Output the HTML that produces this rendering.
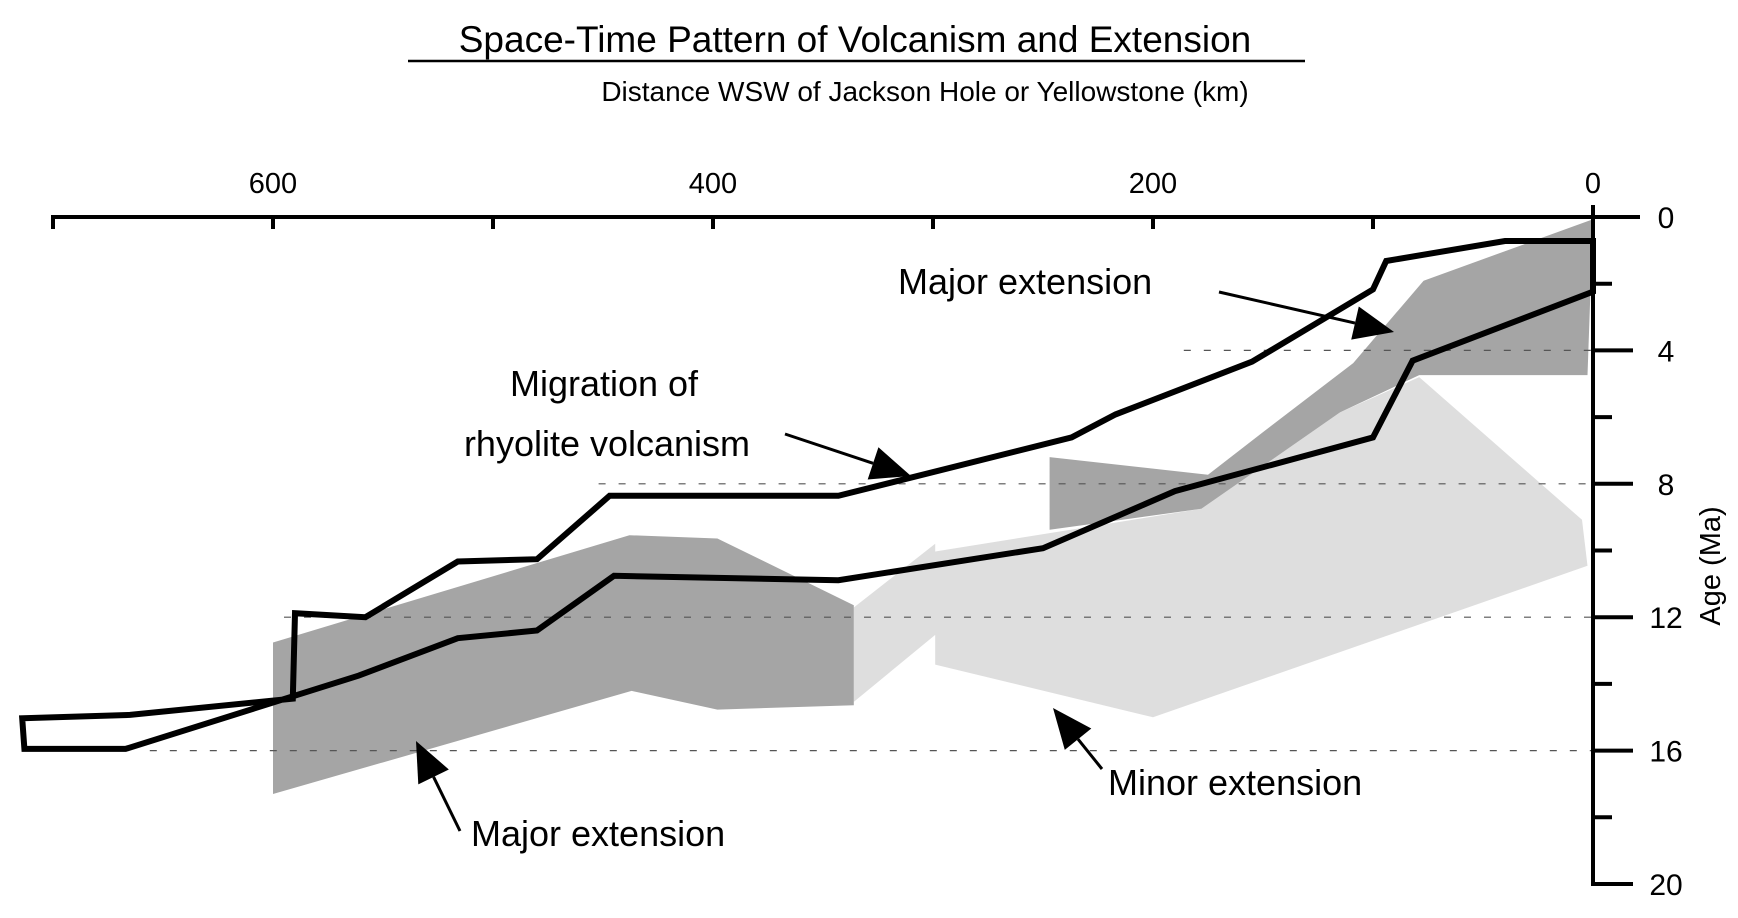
<!DOCTYPE html>
<html><head><meta charset="utf-8"><style>
html,body{margin:0;padding:0;background:#fff}
svg{display:block;font-family:"Liberation Sans",sans-serif}
</style></head><body>
<svg id="chart" width="1738" height="918" viewBox="0 0 1738 918" xmlns="http://www.w3.org/2000/svg">
<text x="855" y="52" font-size="37" text-anchor="middle">Space-Time Pattern of Volcanism and Extension</text>
<line x1="408" y1="61" x2="1305" y2="61" stroke="#000" stroke-width="2.5"/>
<text x="925" y="101" font-size="28" text-anchor="middle">Distance WSW of Jackson Hole or Yellowstone (km)</text>
<g id="shapes"></g>
<g id="grid"></g>
<g id="lines"></g>
<g id="axes"></g>
<g id="annot">
<text x="898" y="294" font-size="36">Major extension</text>
<text x="604" y="396" font-size="36" text-anchor="middle">Migration of</text>
<text x="607" y="456" font-size="36" text-anchor="middle">rhyolite volcanism</text>
<text x="471" y="846" font-size="36">Major extension</text>
<text x="1108" y="795" font-size="36">Minor extension</text>
<text transform="translate(1720,566) rotate(-90)" font-size="29" text-anchor="middle">Age (Ma)</text>
</g>
</svg>
<script>
// data (km WSW, age Ma)
const xTicks = [0,100,200,300,400,500,600,700];
const xTickLabels = ["0","200","400","600"];
const xTickLabelValues = [0,200,400,600];
const yTicks = [0,2,4,6,8,10,12,14,16,18,20];
const yTickLabels = ["0","4","8","12","16","20"];
const yTickLabelValues = [0,4,8,12,16,20];
const gridAges = [4,8,12,16];
const gridStartKm = [186,452,595,656];
const volcKm = [0,40,94,100,155,217,237,343,447,480,516,558,590,591,665,714,713,667,561,516,480,445,343,250,190,100,82,0];
const volcAge = [0.72,0.72,1.32,2.17,4.34,5.92,6.61,8.36,8.36,10.26,10.33,12.0,11.88,14.44,14.93,15.03,15.95,15.95,13.75,12.63,12.4,10.76,10.89,9.93,8.22,6.61,4.31,2.24];
const majorRightKm = [0,77,109,150,175,247,247,178,115,79,2.5];
const majorRightAge = [0.07,1.91,4.38,6.45,7.73,7.2,9.38,8.75,5.86,4.74,4.74];
const majorLeftKm = [600,438,398,336,336,398,437,600];
const majorLeftAge = [12.76,9.54,9.64,11.64,14.64,14.77,14.21,17.3];
const minorKm = [336,299,299,178,115,79,5,2.5,200,299,299,336];
const minorAge = [11.71,9.8,10.03,8.75,5.86,4.8,9.08,10.46,15.0,13.42,12.53,14.54];

const X = km => 1593 - km*2.2;
const Y = a => 217 + a*33.35;
const NS = "http://www.w3.org/2000/svg";
function mk(tag, parent){const e=document.createElementNS(NS,tag);document.getElementById(parent).appendChild(e);return e;}
function pts(k,a){return k.map((v,i)=>X(v).toFixed(1)+","+Y(a[i]).toFixed(1)).join(" ");}

let p = mk("polygon","shapes");


p.setAttribute("points", pts(minorKm,minorAge)); p.setAttribute("fill","#dedede");
p = mk("polygon","shapes");


p.setAttribute("points", pts(majorLeftKm,majorLeftAge)); p.setAttribute("fill","#a5a5a5");
p = mk("polygon","shapes");


p.setAttribute("points", pts(majorRightKm,majorRightAge)); p.setAttribute("fill","#a5a5a5");

gridAges.forEach((a,i)=>{
  const l = mk("line","grid");
  
  
  l.setAttribute("x1",X(gridStartKm[i])); l.setAttribute("x2",X(0)); l.setAttribute("y1",Y(a)); l.setAttribute("y2",Y(a));
  l.setAttribute("stroke","#555"); l.setAttribute("stroke-width","1.2"); l.setAttribute("stroke-dasharray","7 13");
});

p = mk("polygon","lines");


p.setAttribute("points", pts(volcKm,volcAge)); p.setAttribute("fill","none");
p.setAttribute("stroke","#000"); p.setAttribute("stroke-width","6"); p.setAttribute("stroke-linejoin","miter");

// axes
let l = mk("line","axes");


l.setAttribute("x1",X(700)-2); l.setAttribute("x2",X(0)+47); l.setAttribute("y1",Y(0)); l.setAttribute("y2",Y(0));
l.setAttribute("stroke","#000"); l.setAttribute("stroke-width","4");
xTicks.forEach(k=>{
  const t = mk("line","axes");
  
  
  t.setAttribute("x1",X(k)); t.setAttribute("x2",X(k)); t.setAttribute("y1",Y(0)-2); t.setAttribute("y2",Y(0)+(k===0?14:12));
  t.setAttribute("stroke","#000"); t.setAttribute("stroke-width","4");
});
xTickLabelValues.forEach((k,i)=>{
  const t = mk("text","axes");
  
  
  t.setAttribute("x",X(k)); t.setAttribute("y",193); t.setAttribute("font-size","29"); t.setAttribute("text-anchor","middle");
  t.textContent = xTickLabels[i];
});
l = mk("line","axes");


l.setAttribute("x1",X(0)); l.setAttribute("x2",X(0)); l.setAttribute("y1",Y(0)-12); l.setAttribute("y2",Y(20)+2);
l.setAttribute("stroke","#000"); l.setAttribute("stroke-width","4");
yTicks.forEach(a=>{
  const t = mk("line","axes");
  
  
  const len = (a%4===0)?40:19;
  t.setAttribute("x1",X(0)); t.setAttribute("x2",X(0)+len); t.setAttribute("y1",Y(a)); t.setAttribute("y2",Y(a));
  t.setAttribute("stroke","#000"); t.setAttribute("stroke-width","4");
});
yTickLabelValues.forEach((a,i)=>{
  const t = mk("text","axes");
  
  
  t.setAttribute("x",X(0)+73); t.setAttribute("y",Y(a)+11); t.setAttribute("font-size","30"); t.setAttribute("text-anchor","middle");
  t.textContent = yTickLabels[i];
});

// annotation arrows (pixel coords)
function arrow(name,x1,y1,x2,y2){
  const g = mk("g","annot");
  
  
  const dx=x2-x1, dy=y2-y1, L=Math.hypot(dx,dy), ux=dx/L, uy=dy/L;
  const hl=40, hw=17, bx=x2-ux*hl, by=y2-uy*hl;
  const ln=document.createElementNS(NS,"line");
  ln.setAttribute("x1",x1);ln.setAttribute("y1",y1);ln.setAttribute("x2",bx);ln.setAttribute("y2",by);
  ln.setAttribute("stroke","#000");ln.setAttribute("stroke-width","3");g.appendChild(ln);
  const hd=document.createElementNS(NS,"polygon");
  hd.setAttribute("points",`${x2},${y2} ${bx-uy*hw},${by+ux*hw} ${bx+uy*hw},${by-ux*hw}`);
  hd.setAttribute("fill","#000");g.appendChild(hd);
}
arrow("arrow-major-extension-top",1219,292,1394,332);
arrow("arrow-migration",785,434,911,476);
arrow("arrow-major-extension-bottom",460,831,416,741);
arrow("arrow-minor-extension",1102,769,1053,708);
</script>
</body></html>
